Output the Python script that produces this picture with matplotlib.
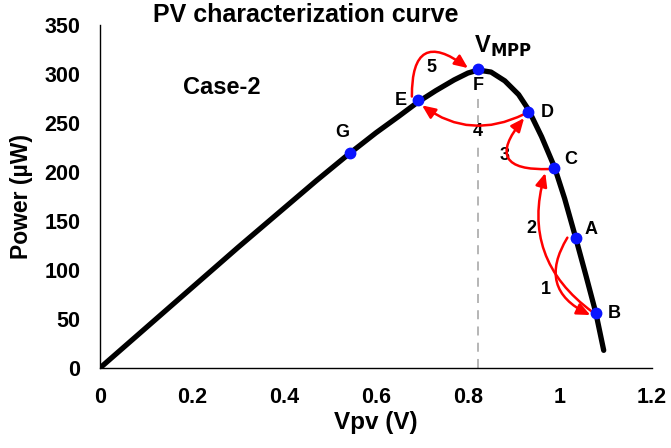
import matplotlib.pyplot as plt

plt.rcParams['font.family'] = ['Liberation Sans', 'DejaVu Sans']
plt.rcParams['font.weight'] = 'bold'

# PV curve (Vpv in V, power in uW)
vpv = [0, 0.1, 0.2, 0.3, 0.4, 0.47, 0.54, 0.6, 0.65, 0.69, 0.73, 0.77, 0.8,
       0.822, 0.85, 0.88, 0.91, 0.931, 0.96, 0.988, 1.01, 1.034, 1.056, 1.078, 1.095]
power = [0, 41, 82, 123, 163, 191, 218, 240, 257, 271, 283, 294, 301,
         304, 302, 293, 279, 264, 236, 205, 173, 133, 95, 56, 18]

# operating points
pt_names = ['G', 'E', 'F', 'D', 'C', 'A', 'B']
pt_v = [0.544, 0.691, 0.822, 0.931, 0.988, 1.034, 1.078]
pt_p = [219, 273, 305, 261, 204, 133, 56]

# label offsets (data units)
lbl_dx = [-0.017, -0.037, 0.0, 0.042, 0.035, 0.033, 0.041]
lbl_dy = [21, 0, -17, 0, 9, 8, 0]

# tracking steps: (start, end, curvature, label, label position)
steps = [
    ((1.016, 133), (1.066, 54), 0.55, '1', (0.97, 80)),
    ((1.071, 57), (0.968, 199), -0.35, '2', (0.937, 142)),
    ((0.977, 203), (0.922, 255), -1.1, '3', (0.88, 217)),
    ((0.922, 259), (0.70, 268), -0.3, '4', (0.822, 241)),
    ((0.678, 277), (0.80, 306), -1.0, '5', (0.72, 307)),
]

fig = plt.figure(figsize=(6.71, 4.48), dpi=100)
ax = fig.add_axes([0.149, 0.1786, 0.8227, 0.7656])

ax.plot([0.822, 0.822], [0, 278], color='#b0b0b0', lw=1.3, ls=(0, (5, 4)), zorder=1)
ax.plot(vpv, power, color='black', lw=3.8, solid_capstyle='round', zorder=2)
ax.plot(pt_v, pt_p, 'o', color='#0a14ff', ms=7.5, zorder=5)

for n, v, p, dx, dy in zip(pt_names, pt_v, pt_p, lbl_dx, lbl_dy):
    ax.text(v + dx, p + dy, n, fontsize=13, fontweight='bold', ha='center', va='center',
            zorder=6)

for start, end, rad, lbl, pos in steps:
    ax.annotate('', xy=end, xytext=start,
                arrowprops=dict(arrowstyle='-|>,head_length=0.8,head_width=0.35',
                                color='red', lw=1.8,
                                connectionstyle=f'arc3,rad={rad}',
                                shrinkA=0, shrinkB=0),
                zorder=4)
    ax.text(pos[0], pos[1], lbl, fontsize=13, fontweight='bold', ha='center', va='center',
            bbox=dict(facecolor='white', edgecolor='none', pad=0.5), zorder=3)

ax.text(0.875, 328, r'V$_{\mathbf{MPP}}$', fontsize=17, fontweight='bold',
        ha='center', va='center')
ax.text(0.265, 286, 'Case-2', fontsize=17, fontweight='bold', ha='center', va='center')

ax.set_xlim(0, 1.2)
ax.set_ylim(0, 350)
ax.set_xticks([0, 0.2, 0.4, 0.6, 0.8, 1.0, 1.2])
ax.set_xticklabels(['0', '0.2', '0.4', '0.6', '0.8', '1', '1.2'])
ax.set_yticks(range(0, 351, 50))
ax.tick_params(length=0, labelsize=15.5)
ax.tick_params(axis='x', pad=14)
ax.tick_params(axis='y', pad=14)
for lab in ax.get_xticklabels() + ax.get_yticklabels():
    lab.set_fontweight('bold')
for s in ['top', 'right']:
    ax.spines[s].set_visible(False)
ax.spines['left'].set_linewidth(1.0)
ax.spines['bottom'].set_linewidth(1.0)

ax.set_xlabel('Vpv (V)', fontsize=17.5, fontweight='bold', labelpad=2)
ax.set_ylabel('Power (µW)', fontsize=16.5, fontweight='bold', labelpad=8)
fig.text(0.455, 0.967, 'PV characterization curve', fontsize=18, fontweight='bold',
         ha='center', va='center')

fig.savefig('out.png', dpi=100)
